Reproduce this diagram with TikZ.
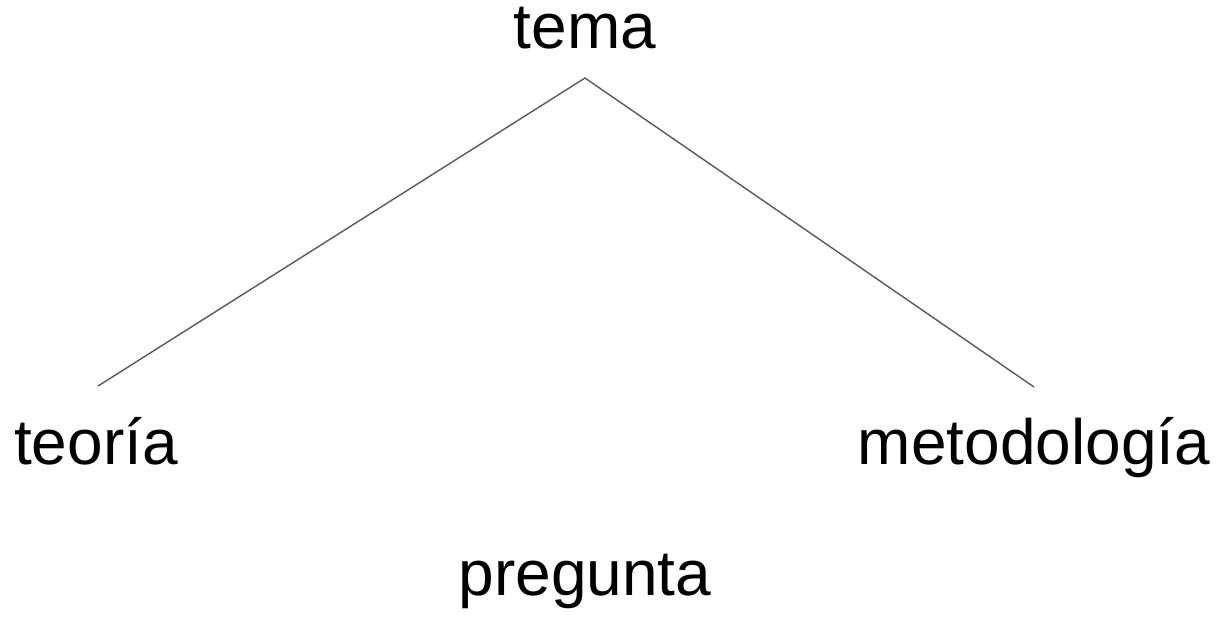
\documentclass[tikz,border=0pt]{standalone}
\usepackage{fontspec}
\setmainfont{Liberation Sans}
\usetikzlibrary{calc}

\tikzset{
  word/.style={anchor=base, inner sep=0pt, font=\fontsize{32}{38}\selectfont},
  branch/.style={draw=black!65, line width=0.7pt}
}

\begin{document}
\begin{tikzpicture}[x=0.5pt, y=-0.5pt]
            \useasboundingbox (0,0) rectangle (1217,617);

            \node[word] (tema) at (585, 48) {tema};
            \node[word] (teoria) at (96, 464) {teoría};
            \node[word] (metodo) at (1034, 464) {metodología};
            \node[word] (pregunta) at (585, 595) {pregunta};

            \coordinate (apex) at ([yshift=-15pt]tema.base);
            \coordinate (leftend) at ([shift={(1pt,39pt)}]teoria.base);
            \coordinate (rightend) at ([yshift=38.5pt]metodo.base);

            \draw[branch] (leftend) -- (apex) -- (rightend);
        \end{tikzpicture}
\end{document}
